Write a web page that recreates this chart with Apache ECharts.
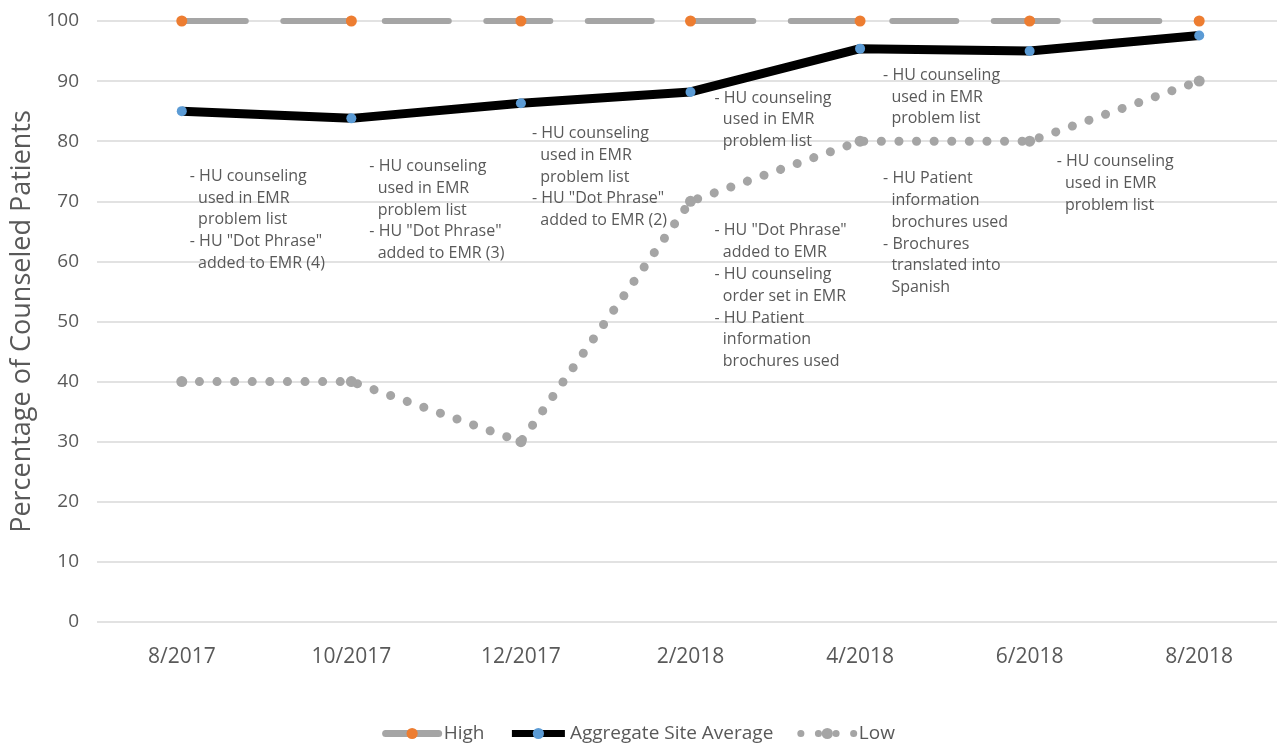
<!DOCTYPE html>
<html>
<head>
<meta charset="utf-8">
<script src="https://cdn.jsdelivr.net/npm/echarts@6/dist/echarts.min.js"></script>
<style>
html,body{margin:0;padding:0;background:#fff;}
#c{width:1277px;height:745px;}
</style>
</head>
<body>
<div id="c"></div>
<script>
const categories = ['8/2017','10/2017','12/2017','2/2018','4/2018','6/2018','8/2018'];
const highValues = [100,100,100,100,100,100,100];
const averageValues = [85,83.8,86.3,88.2,95.4,95,97.6];
const lowValues = [40,40,30,70,80,80,90];
const yTicks = {min:0, max:100, interval:10};
const yAxisName = 'Percentage of Counseled Patients';
// annotation text blocks: [category index, y value at top of block, lines]
const annotations = [
  [0, 76.0, ['- HU counseling','  used in EMR','  problem list','- HU "Dot Phrase"','  added to EMR (4)']],
  [1, 77.6, ['- HU counseling','  used in EMR','  problem list','- HU "Dot Phrase"','  added to EMR (3)']],
  [2, 83.1, ['- HU counseling','  used in EMR','  problem list','- HU "Dot Phrase"','  added to EMR (2)']],
  [3, 89.0, ['- HU counseling','  used in EMR','  problem list']],
  [3, 66.9, ['- HU "Dot Phrase"','  added to EMR','- HU counseling','  order set in EMR','- HU Patient','  information','  brochures used']],
  [4, 92.8, ['- HU counseling','  used in EMR','  problem list']],
  [4, 75.6, ['- HU Patient','  information','  brochures used','- Brochures','  translated into','  Spanish']],
  [5, 78.4, ['- HU counseling','  used in EMR','  problem list']]
];
const annotationDx = [8, 18, 11, 24, 24, 23, 23, 27];

const chart = echarts.init(document.getElementById('c'));
const txt = '#595959';
const font = 'Open Sans';
chart.setOption({
  animation:false,
  backgroundColor:'#fff',
  textStyle:{fontFamily:font},
  grid:{left:97, right:-7, top:21, bottom:123, containLabel:false, outerBoundsMode:'none'},
  legend:{
    top:719, left:'center',
    itemWidth:53, itemHeight:14, itemGap:24,
    lineStyle:{width:7},
    textStyle:{color:txt, fontSize:19, fontFamily:font},
    data:['High','Aggregate Site Average','Low']
  },
  xAxis:{
    type:'category', data:categories, boundaryGap:true,
    axisLine:{show:false}, axisTick:{show:false},
    axisLabel:{color:txt, fontSize:21, margin:25, fontFamily:font}
  },
  yAxis:{
    type:'value', min:yTicks.min, max:yTicks.max, interval:yTicks.interval,
    name:yAxisName, nameLocation:'middle', nameGap:59, nameRotate:90,
    nameTextStyle:{color:txt, fontSize:27, fontFamily:font},
    axisLine:{show:false}, axisTick:{show:false},
    axisLabel:{color:txt, fontSize:19, margin:18, fontFamily:font},
    splitLine:{lineStyle:{color:'#d9d9d9', width:1.5}}
  },
  series:[
    {name:'High', type:'line', data:highValues, symbol:'circle', symbolSize:11,
     itemStyle:{color:'#ED7D31'},
     lineStyle:{color:'#a5a5a5', width:6, type:[64,37.5], cap:'round'}, z:3},
    {name:'Aggregate Site Average', type:'line', data:averageValues, symbol:'circle', symbolSize:10,
     itemStyle:{color:'#5B9BD5'},
     lineStyle:{color:'#000', width:9}, z:4},
    {name:'Low', type:'line', data:lowValues, symbol:'circle', symbolSize:11,
     itemStyle:{color:'#a5a5a5'},
     lineStyle:{color:'#a5a5a5', width:9, type:[0.1,17.5], cap:'round'}, z:5}
  ]
});

const graphics = annotations.map((a, i) => {
  const p = chart.convertToPixel({gridIndex:0}, [a[0], a[1]]);
  return {
    type:'text', left:p[0] + annotationDx[i], top:p[1], z:10,
    style:{text:a[2].join('\n'), fill:txt, font:'16px "Open Sans"', lineHeight:21.8}
  };
});
chart.setOption({graphic:graphics});
</script>
</body>
</html>
